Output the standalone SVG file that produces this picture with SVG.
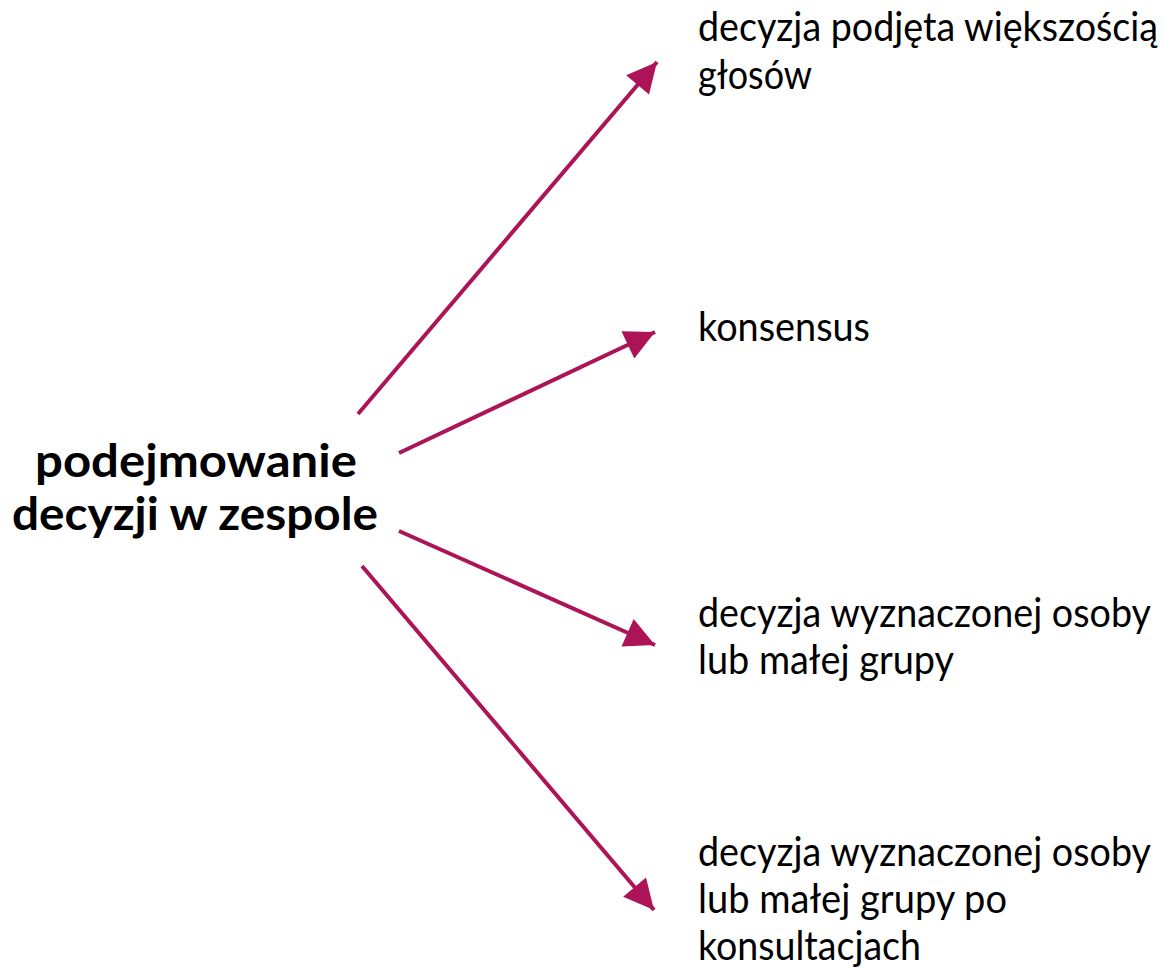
<svg xmlns="http://www.w3.org/2000/svg" width="1164" height="968" viewBox="0 0 1164 968">
<style>
.lbl{font-family:Lato,"Liberation Sans",sans-serif;font-size:40px;fill:#000}
.main{font-family:Lato,"Liberation Sans",sans-serif;font-size:45px;font-weight:bold;fill:#000}
.arr{stroke:#AD1457;stroke-width:4;fill:none;marker-end:url(#ah)}
</style>
<defs>
<marker id="ah" viewBox="0 0 10 10" refX="10" refY="5" markerWidth="8" markerHeight="7.5" markerUnits="strokeWidth" orient="auto">
<path d="M0,0 L10,5 L0,10 z" fill="#AD1457"/>
</marker>
</defs>
<rect width="1164" height="968" fill="#fff"/>
<g id="connectors">
<line class="arr" x1="358" y1="414" x2="657" y2="62"/>
<line class="arr" x1="399" y1="453" x2="655" y2="332"/>
<line class="arr" x1="399" y1="531" x2="655" y2="645"/>
<line class="arr" x1="362" y1="566" x2="654" y2="910"/>
</g>
<g id="center">
<text class="main" x="35" y="477" textLength="322" lengthAdjust="spacingAndGlyphs">podejmowanie</text>
<text class="main" x="12" y="530" textLength="366" lengthAdjust="spacingAndGlyphs">decyzji w zespole</text>
</g>
<g id="n1"><text class="lbl" x="698" y="41" textLength="460" lengthAdjust="spacingAndGlyphs">decyzja podjęta większością</text><text class="lbl" x="698" y="89" textLength="114" lengthAdjust="spacingAndGlyphs">głosów</text></g>
<g id="n2"><text class="lbl" x="698" y="341" textLength="172" lengthAdjust="spacingAndGlyphs">konsensus</text></g>
<g id="n3"><text class="lbl" x="698" y="627" textLength="453" lengthAdjust="spacingAndGlyphs">decyzja wyznaczonej osoby</text><text class="lbl" x="698" y="674" textLength="256" lengthAdjust="spacingAndGlyphs">lub małej grupy</text></g>
<g id="n4"><text class="lbl" x="698" y="866" textLength="453" lengthAdjust="spacingAndGlyphs">decyzja wyznaczonej osoby</text><text class="lbl" x="698" y="913" textLength="309" lengthAdjust="spacingAndGlyphs">lub małej grupy po</text><text class="lbl" x="698" y="960" textLength="223" lengthAdjust="spacingAndGlyphs">konsultacjach</text></g>
</svg>
